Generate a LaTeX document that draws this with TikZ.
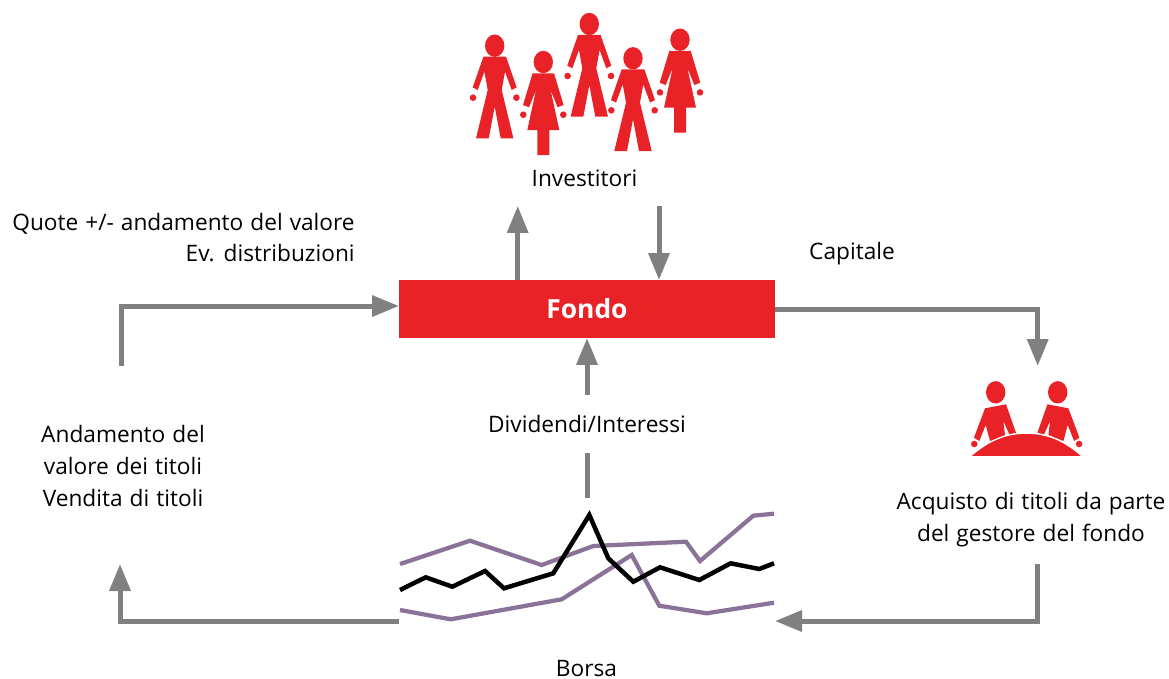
\documentclass[tikz,border=0pt]{standalone}
\usepackage{fontspec}
\setmainfont{Open Sans}
\usetikzlibrary{arrows.meta}
\definecolor{fondored}{HTML}{E92228}
\definecolor{flowgray}{HTML}{808080}
\definecolor{chartpurple}{HTML}{8A7299}
\tikzset{
    flow/.style={draw=flowgray, line width=0.1cm, -{Triangle[width=0.41cm,length=0.54cm]}},
    flowplain/.style={draw=flowgray, line width=0.1cm},
    textlabel/.style={font=\fontsize{12.9}{18}\selectfont\spaceskip 4pt\relax, inner sep=0pt},
    purpleline/.style={draw=chartpurple, line width=0.085cm, line join=miter},
    blackline/.style={draw=black, line width=0.09cm, line join=miter},
    man/.pic={
        \fill[fondored] (0,0) ellipse (9.7 and 11.2);
        \fill[fondored] (-11.3,11) -- (11.3,11) -- (22,41.7) -- (17,44.3) -- (10.3,26) -- (7,44.3) -- (18.7,92.7) -- (6,92.7) -- (0,61)
            -- (-6,92.7) -- (-18.7,92.7) -- (-7,44.3) -- (-10.3,26) -- (-17,44.3) -- (-22,41.7) -- cycle;
        \fill[fondored] (-21.7,52) circle (3.3);
        \fill[fondored] (21.7,52) circle (3.3);
    },
    woman/.pic={
        \fill[fondored] (0,0) ellipse (9.7 and 11.2);
        \fill[fondored] (-10.7,11.3) -- (10.7,11.3) -- (20.3,43) -- (14.3,45.3) -- (7.3,28) -- (16,68) -- (6,68) -- (6,93)
            -- (-6,93) -- (-6,68) -- (-16,68) -- (-7.3,28) -- (-14.3,45.3) -- (-20.3,43) -- cycle;
        \fill[fondored] (-20,52.7) circle (3.3);
        \fill[fondored] (20,52.7) circle (3.3);
    },
    manager/.pic={
        \fill[fondored] (0,0) ellipse (9.7 and 11.2);
        \fill[fondored] (-10.7,16) -- (10.3,12) -- (20.3,40.4) -- (13.6,42) -- (7.6,28.7) -- (9.3,42.7) -- (-5.7,48.7) -- (-10,32.7)
            -- (-16.4,48.7) -- (-21.7,45.4) -- cycle;
        \fill[fondored] (-21.4,51.7) circle (3.3);
    },
}
\begin{document}
\begin{tikzpicture}[x=0.02cm, y=-0.02cm]
    \useasboundingbox (0,0) rectangle (1169,679);

    %%investors
    \pic at (494.7,45.7) {man};
    \pic at (543.3,62) {woman};
    \pic at (589.3,24) {man};
    \pic at (633,58.3) {man};
    \pic at (680,39.7) {woman};
    \node[textlabel] (investitori) at (584.5,178) {Investitori};

    %%fund
    \node[fill=fondored, minimum width=7.52cm, minimum height=1.16cm, inner sep=0pt, text=white,
        font=\fontsize{15}{17}\selectfont\bfseries] (fondo) at (587,309) {Fondo};

    %%manager
    \pic at (995.7,392.3) {manager};
    \pic[xscale=-1] at (1057.7,392.3) {manager};
    \fill[fondored, draw=white, line width=0.02cm] (970.2,456.5) .. controls (990,439) and (1008,433.3) .. (1026.2,433.3)
        .. controls (1045,433.3) and (1063,439) .. (1082.2,456.5) -- cycle;

    %%market lines
    \draw[purpleline] (400,564) -- (470,540.7) -- (541.7,565) -- (593.3,546) -- (686,541.7) -- (700,561) -- (753.3,515.7) -- (774,513.7);
    \draw[purpleline] (400,610) -- (450.7,619.3) -- (561.7,599.3) -- (631.7,555) -- (659.3,605.7) -- (706.7,613.3) -- (774,602.7);
    \draw[blackline] (400,590) -- (425.7,577.3) -- (452.3,586.7) -- (485,571) -- (504,588.3) -- (553.3,573.3) -- (589.3,515)
        -- (608.3,558.3) -- (633.3,581.7) -- (660,567.3) -- (699.3,580) -- (730.7,563.3) -- (759.3,569) -- (774,563.3);

    %%labels
    \node[textlabel, align=right, anchor=east] (quote) at (355,237.5) {Quote +/- andamento del valore\\Ev. distribuzioni};
    \node[textlabel] (capitale) at (852,254) {Capitale};
    \node[textlabel] (dividendi) at (587,424) {Dividendi/Interessi};
    \node[textlabel, align=center] (andamento) at (123,466) {Andamento del\\valore dei titoli\\Vendita di titoli};
    \node[textlabel, align=center] (acquisto) at (1031,519.5) {Acquisto di titoli da parte\\del gestore del fondo};
    \node[textlabel] (borsa) at (586.5,669) {Borsa};

    %%free ends of the flows
    \coordinate (upfoot) at (517.7,280);
    \coordinate (uptip) at (517.7,206);
    \coordinate (downfoot) at (659,206);
    \coordinate (downtip) at (659,280);
    \coordinate (leftfoot) at (121.7,366);
    \coordinate (lefttip) at (399,306);
    \coordinate (rightfoot) at (775,309);
    \coordinate (righttip) at (1037.7,366);
    \coordinate (divtip) at (587,338);
    \coordinate (divfoot) at (587,395);
    \coordinate (divlow) at (587,453);
    \coordinate (divhigh) at (587,498);
    \coordinate (buyfoot) at (1037.7,564);
    \coordinate (buytip) at (775,621);
    \coordinate (sellfoot) at (399,621);
    \coordinate (selltip) at (120,564);

    \draw[flow] (upfoot) -- (uptip);
    \draw[flow] (downfoot) -- (downtip);
    \draw[flow] (leftfoot) |- (lefttip);
    \draw[flow] (rightfoot) -| (righttip);
    \draw[flow] (divfoot) -- (divtip);
    \draw[flowplain] (divlow) -- (divhigh);
    \draw[flow] (buyfoot) |- (buytip);
    \draw[flow] (sellfoot) -| (selltip);
\end{tikzpicture}
\end{document}
